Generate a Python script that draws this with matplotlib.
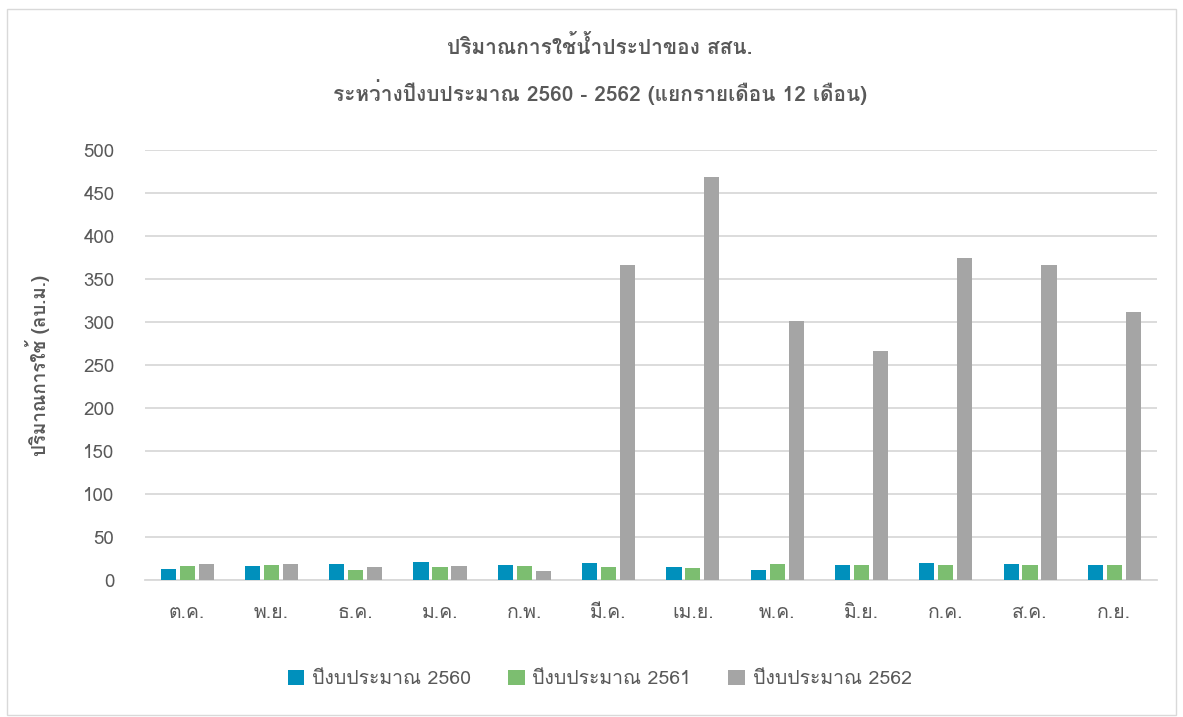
import numpy as np
import matplotlib
matplotlib.use('Agg')
from matplotlib import pyplot as plt
from matplotlib import font_manager
from matplotlib.ft2font import FT2Font
from matplotlib.patches import Rectangle

months = ['ต.ค.', 'พ.ย.', 'ธ.ค.', 'ม.ค.', 'ก.พ.', 'มี.ค.',
          'เม.ย.', 'พ.ค.', 'มิ.ย.', 'ก.ค.', 'ส.ค.', 'ก.ย.']
y2560 = [13, 16, 19, 20.5, 18, 19.5, 15.5, 12, 18, 19.5, 18.5, 17]
y2561 = [16, 17.5, 12, 15, 16, 15, 14, 19, 18, 17.5, 18, 18]
y2562 = [18.5, 18.5, 15, 16.5, 10.5, 366, 469, 301, 266, 374, 366, 311]
series_names = ['ปีงบประมาณ 2560', 'ปีงบประมาณ 2561', 'ปีงบประมาณ 2562']
title1 = 'ปริมาณการใช้น้ำประปาของ สสน.'
title2 = 'ระหว่างปีงบประมาณ 2560 - 2562 (แยกรายเดือน 12 เดือน)'
ylabel = 'ปริมาณการใช้ (ลบ.ม.)'

# look for any installed font that has thai glyphs
thai_font = None
for f in font_manager.fontManager.ttflist:
    try:
        if 0x0E1B in FT2Font(f.fname).get_charmap():
            thai_font = f.name
            break
    except Exception:
        pass
fams = ['DejaVu Sans']
if thai_font:
    fams = [thai_font, 'DejaVu Sans']
plt.rcParams['font.family'] = fams

txt = '#595959'
colors = ['#0090BC', '#7CBE70', '#A5A5A5']

fig = plt.figure(figsize=(11.83, 7.17), dpi=100)
ax = fig.add_axes([0.1226, 0.191, 0.855, 0.600])

x = np.arange(len(months))
w = 0.18
step = 0.225
for i, (vals, c, name) in enumerate(zip([y2560, y2561, y2562], colors, series_names)):
    ax.bar(x + (i - 1) * step, vals, width=w, color=c, label=name, zorder=3)

ax.set_ylim(0, 500)
ax.set_xlim(-0.5, len(months) - 0.5)
ax.set_yticks(np.arange(0, 501, 50))
ax.set_xticks(x)
ax.set_xticklabels(months)
ax.tick_params(axis='both', length=0, colors=txt)
ax.tick_params(axis='x', pad=17, labelsize=14)
ax.tick_params(axis='y', pad=22, labelsize=13.5)
ax.grid(axis='y', color='#D9D9D9', linewidth=1.3, zorder=0)
for s in ['top', 'right', 'left']:
    ax.spines[s].set_visible(False)
ax.spines['bottom'].set_color('#D9D9D9')
ax.spines['bottom'].set_linewidth(1.3)

ax.set_ylabel(ylabel, fontsize=13.5, color=txt, fontweight='bold', labelpad=24)
fig.text(0.507, 0.935, title1, ha='center', va='center',
         fontsize=15, color=txt, fontweight='bold')
fig.text(0.507, 0.872, title2, ha='center', va='center',
         fontsize=15, color=txt, fontweight='bold')

leg = fig.legend(loc='center', bbox_to_anchor=(0.507, 0.053), ncol=3, frameon=False,
                 fontsize=14, handlelength=0.85, handleheight=0.85, columnspacing=1.9, handletextpad=0.4)
for t in leg.get_texts():
    t.set_color(txt)

fig.patches.append(Rectangle((0.006, 0.003), 0.988, 0.985, transform=fig.transFigure,
                             fill=False, edgecolor='#D9D9D9', linewidth=1))

fig.savefig('out.png', dpi=100)
